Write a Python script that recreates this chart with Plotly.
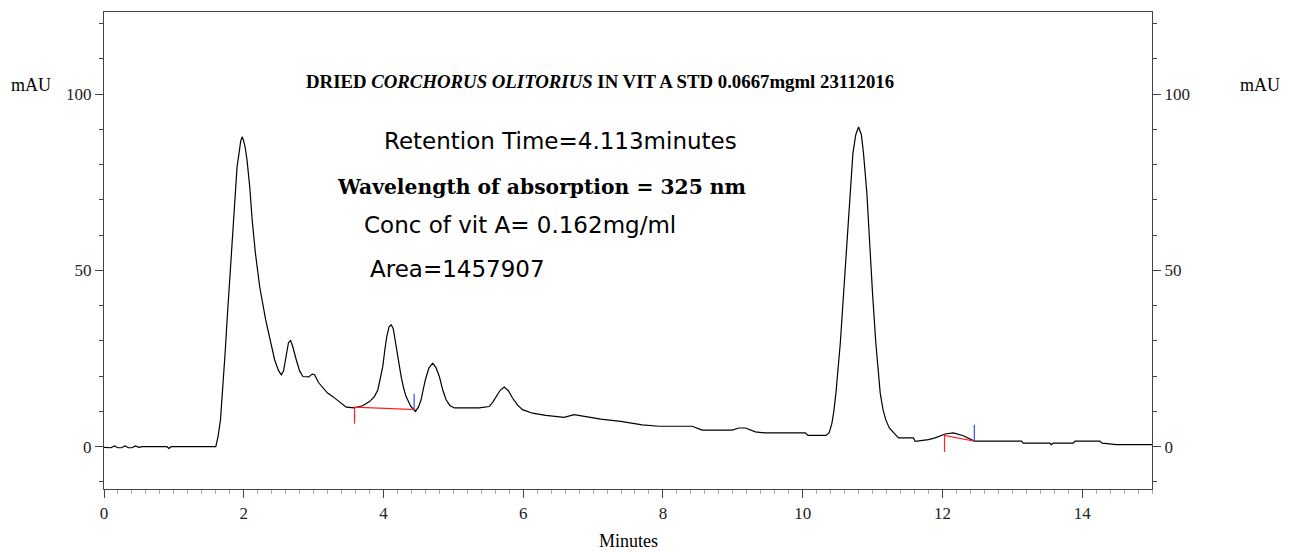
import plotly.graph_objects as go

# Chromatogram trace (minutes, mAU)
time_min = [0.0, 0.05, 0.1, 0.15, 0.2, 0.25, 0.3, 0.35, 0.4, 0.45, 0.5, 0.55, 0.9, 0.93, 0.96,
            1.60, 1.633, 1.667, 1.705, 1.735, 1.762, 1.795, 1.824, 1.85, 1.881, 1.905, 1.933, 1.955,
            1.976, 1.995, 2.02, 2.047, 2.086, 2.12, 2.167, 2.229, 2.314, 2.371, 2.443, 2.50, 2.539,
            2.57, 2.60, 2.64, 2.671, 2.70, 2.753, 2.80, 2.847, 2.93, 2.98, 3.014, 3.07, 3.133, 3.20,
            3.276, 3.38, 3.467, 3.586, 3.70, 3.80, 3.87, 3.919, 3.96, 3.99, 4.02, 4.047, 4.08, 4.11,
            4.14, 4.181, 4.22, 4.253, 4.29, 4.324, 4.39, 4.457, 4.50, 4.539, 4.57, 4.60, 4.65, 4.704,
            4.75, 4.80, 4.85, 4.896, 4.95, 5.014, 5.371, 5.514, 5.57, 5.61, 5.67, 5.729, 5.79, 5.847,
            5.92, 5.99, 6.133, 6.324, 6.586, 6.729, 6.967, 7.11, 7.396, 7.539, 7.704, 7.943, 8.419,
            8.561, 8.99, 9.086, 9.181, 9.324, 9.467, 10.039, 10.076, 10.333, 10.38, 10.419, 10.446,
            10.476, 10.539, 10.586, 10.633, 10.681, 10.719, 10.76, 10.80, 10.84, 10.871, 10.919,
            10.957, 11.0, 11.047, 11.11, 11.15, 11.19, 11.24, 11.30, 11.371, 11.586, 11.61, 11.80,
            11.896, 12.039, 12.157, 12.30, 12.457, 13.133, 13.157, 13.539, 13.557, 13.586, 13.871,
            13.90, 14.253, 14.286, 14.49, 15.0]
absorbance = [-0.2, -0.3, -0.3, 0.2, -0.3, -0.3, 0.2, -0.3, -0.3, 0.2, -0.2, 0.0, 0.0, -0.5, 0.0,
              0.0, 2.9, 7.6, 17.1, 27.0, 36.0, 46.0, 54.9, 63.0, 73.7, 79.5, 83.2, 86.5,
              87.9, 87.0, 85.0, 81.3, 73.7, 64.5, 54.9, 45.3, 36.0, 31.2, 24.6, 21.5, 20.4,
              21.5, 25.0, 29.5, 30.1, 28.5, 24.6, 21.5, 19.9, 19.8, 20.6, 20.4, 18.2, 16.7, 15.2,
              14.2, 12.5, 11.2, 11.0, 11.6, 12.8, 14.2, 16.1, 19.5, 22.7, 27.5, 31.2, 34.0, 34.6,
              33.5, 28.4, 23.5, 19.9, 16.5, 14.2, 11.5, 10.0, 11.2, 13.3, 16.3, 19.0, 22.3, 23.7,
              22.5, 19.9, 16.0, 13.3, 11.7, 11.0, 11.0, 11.4, 12.8, 14.2, 16.0, 16.9, 15.8, 13.8,
              11.8, 10.5, 9.5, 8.9, 8.3, 9.1, 8.3, 7.8, 7.2, 6.7, 6.2, 5.8, 5.8,
              4.7, 4.7, 5.3, 5.3, 4.2, 3.9, 3.9, 3.2, 3.2, 4.0, 6.7, 10.0,
              15.2, 29.4, 43.5, 57.7, 71.9, 83.2, 88.5, 90.7, 88.5, 83.2, 71.9,
              57.7, 43.5, 29.4, 15.2, 10.5, 7.6, 5.3, 3.9, 2.5, 2.5, 1.5, 2.0,
              2.5, 3.6, 3.9, 3.1, 1.6, 1.6, 1.0, 1.0, 0.6, 1.0, 1.0,
              1.6, 1.6, 1.0, 0.6, 0.6]

# Integration baseline marks
base1_x = [3.586, 3.586, 4.457]
base1_y = [6.5, 11.2, 10.5]
tick1_x = [4.439, 4.439]
tick1_y = [10.5, 15.0]
base2_x = [12.03, 12.03, 12.457]
base2_y = [-1.5, 3.2, 1.6]
tick2_x = [12.457, 12.457]
tick2_y = [1.6, 6.2]

x_ticks = [0, 2, 4, 6, 8, 10, 12, 14]
y_ticks = [0, 50, 100]

title_html = "<b>DRIED <i>CORCHORUS OLITORIUS</i> IN VIT A STD 0.0667mgml 23112016</b>"
notes = ["Retention Time=4.113minutes", "<b>Wavelength of absorption = 325 nm</b>",
         "Conc of vit A= 0.162mg/ml", "Area=1457907"]

serif = "Liberation Serif"
sans = "DejaVu Sans"

fig = go.Figure()
fig.add_trace(go.Scatter(x=time_min, y=absorbance, mode="lines",
                         line=dict(color="black", width=1.2), hoverinfo="skip"))
fig.add_trace(go.Scatter(x=base1_x, y=base1_y, mode="lines",
                         line=dict(color="#ff2020", width=1.2), hoverinfo="skip"))
fig.add_trace(go.Scatter(x=tick1_x, y=tick1_y, mode="lines",
                         line=dict(color="#4040ff", width=1.2), hoverinfo="skip"))
fig.add_trace(go.Scatter(x=base2_x, y=base2_y, mode="lines",
                         line=dict(color="#ff2020", width=1.2), hoverinfo="skip"))
fig.add_trace(go.Scatter(x=tick2_x, y=tick2_y, mode="lines",
                         line=dict(color="#4040ff", width=1.2), hoverinfo="skip", yaxis="y2"))

yr = [-12.0, 123.3]
axis_common = dict(showgrid=False, zeroline=False, linecolor="#444", linewidth=1.3,
                   ticks="outside", ticklen=8, tickcolor="#444", tickwidth=1.3,
                   tickfont=dict(family=serif, size=17, color="#222"))

# page body adds an 8px offset; figure sized so the plot box lands at 104..1152 x 12..489
fig.update_layout(
    width=1290, height=544,
    margin=dict(l=96, r=146, t=4, b=63, autoexpand=False),
    plot_bgcolor="white", paper_bgcolor="white",
    showlegend=False,
    xaxis=dict(range=[0, 15], tickvals=x_ticks, mirror=True, showline=True,
               minor=dict(dtick=0.2, ticks="outside", ticklen=4, tickcolor="#aaa"),
               **axis_common),
    yaxis=dict(range=yr, tickvals=y_ticks, showline=True, mirror=True,
               minor=dict(dtick=10, ticks="outside", ticklen=4, tickcolor="#444"),
               **axis_common),
    yaxis2=dict(range=yr, tickvals=y_ticks, overlaying="y", side="right", showline=True,
                minor=dict(dtick=10, ticks="outside", ticklen=4, tickcolor="#444"),
                **axis_common),
)

def note(text, x, y, family, size):
    fig.add_annotation(text=text, x=x, y=y, xref="paper", yref="paper", showarrow=False,
                       xanchor="center", yanchor="middle",
                       font=dict(family=family, size=size, color="black"))

note("mAU", -0.0697, 0.847, serif, 18)
note("mAU", 1.103, 0.847, serif, 18)
note("Minutes", 0.5, -0.109, serif, 18)
note(title_html, 0.4733, 0.855, serif, 18.8)
note(notes[0], 0.4356, 0.7296, sans, 23)
note(notes[1], 0.4173, 0.633, "DejaVu Serif", 20.3)
note(notes[2], 0.397, 0.553, sans, 23)
note(notes[3], 0.3373, 0.461, sans, 23)

fig.write_html("out.html")
